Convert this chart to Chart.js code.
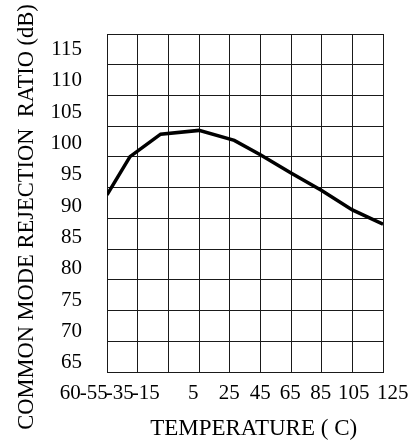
<!DOCTYPE html>
<html>
<head>
<meta charset="utf-8">
<script src="https://cdn.jsdelivr.net/npm/chart.js@4/dist/chart.umd.min.js"></script>
<style>
  html, body { margin: 0; padding: 0; background: #fff; }
  #wrap { width: 419px; height: 445px; }
</style>
</head>
<body>
<div id="wrap"><canvas id="c" width="419" height="445"></canvas></div>
<script>
(function () {
  'use strict';

  // values (temperature in C, CMRR in dB)
  const temps = [-55, -40, -20, 5, 28, 45, 65, 85, 105, 125];
  const cmrr  = [91.8, 97.9, 101.5, 102.1, 100.5, 98.2, 95.3, 92.5, 89.4, 87.1];

  // tick labels as printed
  const xTickLabels = ['60', '-55', '-35', '-15', '5', '25', '45', '65', '85', '105', '125'];
  const yTickLabels = [65, 70, 75, 80, 85, 90, 95, 100, 105, 110, 115];

  // the printed x labels do not sit under their grid lines, so place them here
  const xLabelAt = [-78.9, -63.6, -46.7, -29.7, 1.3, 24.8, 45, 64.5, 84.4, 106, 131.4];

  const serif = 'Liberation Serif, Times New Roman, serif';
  const ink = '#000';
  const gridInk = '#1a1a1a';

  // label axes must not push the plot area around
  const noPad = (s) => { s.paddingTop = 0; s.paddingBottom = 0; s.paddingLeft = 0; s.paddingRight = 0; };

  new Chart(document.getElementById('c'), {
    type: 'line',
    data: {
      datasets: [{
        data: temps.map((t, i) => ({ x: t, y: cmrr[i] })),
        xAxisID: 'x',
        yAxisID: 'yl',
        borderColor: ink,
        borderWidth: 3.5,
        pointRadius: 0,
        tension: 0,
        fill: false
      }]
    },
    options: {
      responsive: false,
      animation: false,
      events: [],
      layout: { padding: { top: 34, right: 36, bottom: 0, left: 0 } },
      plugins: { legend: { display: false }, tooltip: { enabled: false } },
      scales: {
        // grid only
        x: {
          type: 'linear', position: 'bottom', min: -55, max: 125,
          ticks: { stepSize: 20, display: false },
          grid: { color: gridInk, lineWidth: 1, drawTicks: false },
          border: { color: gridInk, width: 1 }
        },
        y: {
          type: 'linear', position: 'left', min: 60, max: 115,
          ticks: { stepSize: 5, display: false },
          grid: { color: gridInk, lineWidth: 1, drawTicks: false },
          border: { color: gridInk, width: 1 }
        },
        // printed labels + titles
        xl: {
          type: 'linear', position: 'bottom', min: -55, max: 125,
          grid: { display: false, drawTicks: false },
          border: { display: false },
          afterBuildTicks: (s) => { s.ticks = xLabelAt.map(v => ({ value: v })); },
          afterFit: (s) => { s.height = 73; noPad(s); },
          ticks: {
            autoSkip: false, maxRotation: 0, padding: 9, color: ink,
            font: { family: serif, size: 21 },
            callback: (v, i) => xTickLabels[i]
          },
          title: {
            display: true, text: '   TEMPERATURE ( C)', color: ink,
            font: { family: serif, size: 23 },
            padding: { top: 0, bottom: 2 }
          }
        },
        yl: {
          type: 'linear', position: 'left', weight: 1, min: 63.5, max: 117.5,
          grid: { display: false, drawTicks: false },
          border: { display: false },
          afterBuildTicks: (s) => { s.ticks = yTickLabels.map(v => ({ value: v })); },
          afterFit: (s) => { s.width = 107; noPad(s); },
          ticks: {
            autoSkip: false, padding: 25, color: ink,
            font: { family: serif, size: 21 }
          },
          title: {
            display: true, text: 'COMMON MODE REJECTION  RATIO (dB)     ', color: ink,
            font: { family: serif, size: 22.5 },
            padding: { top: 14, bottom: 0 }
          }
        }
      }
    }
  });
})();
</script>
</body>
</html>
